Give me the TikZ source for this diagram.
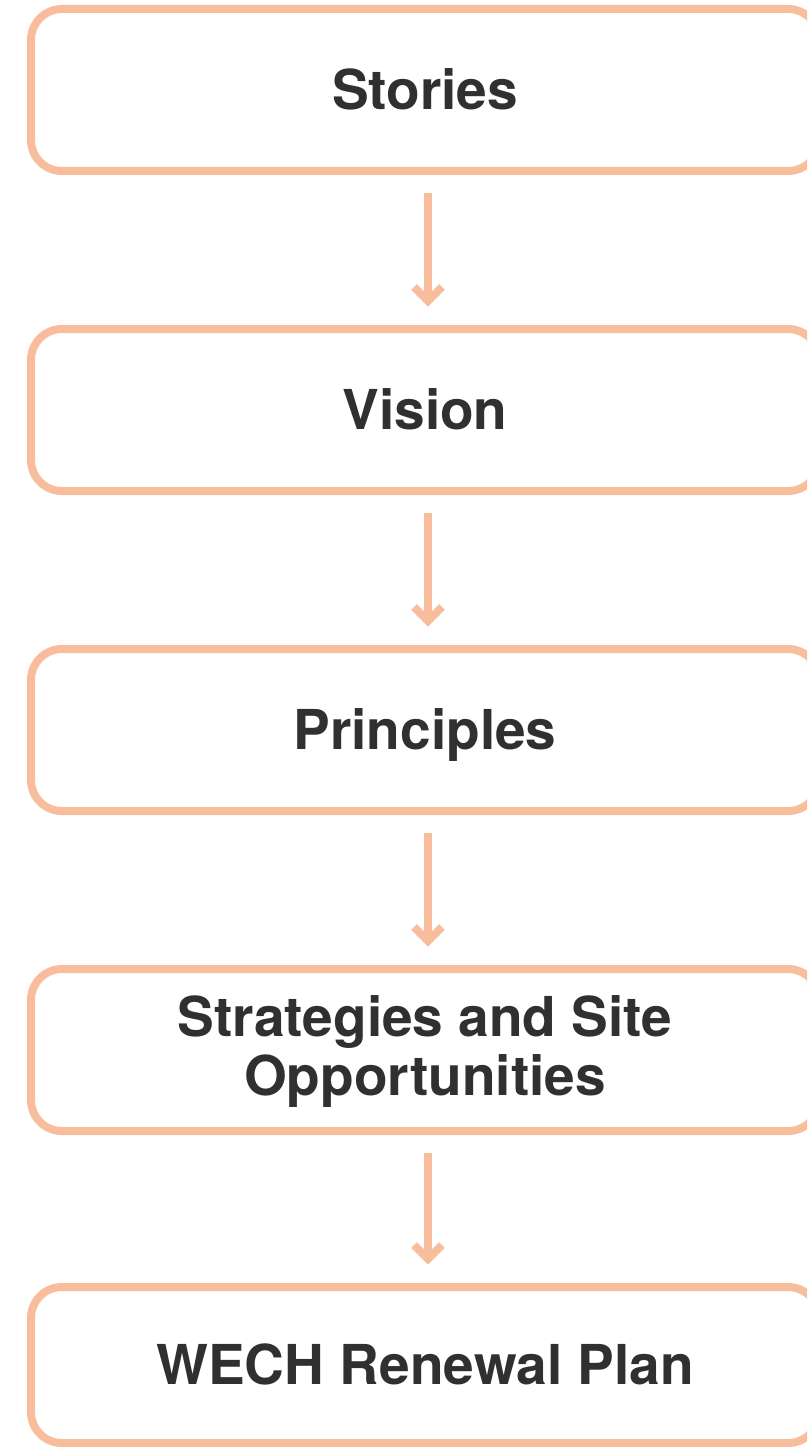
\documentclass[tikz,border=0pt]{standalone}
\usepackage{fontspec}
\setmainfont{TeX Gyre Heros}
\definecolor{peach}{HTML}{F8BD9C}
\definecolor{ink}{HTML}{2F3130}
\begin{document}
\begin{tikzpicture}[x=1pt,y=1pt,
  stagebox/.style={draw=peach, line width=8pt, rounded corners=31pt, minimum width=788pt,
    minimum height=162pt, inner sep=0pt, text=ink, align=center,
    font=\bfseries\fontsize{55}{59}\selectfont, text height=39pt, text depth=0pt},
  flowline/.style={draw=peach, line width=8pt, line cap=butt, line join=miter}]
\useasboundingbox (0,0) rectangle (807,-1447);
\clip (0,0) rectangle (807,-1447);
\node[stagebox] (s1) at (425,-90) {Stories};
\node[stagebox] (s2) at (425,-410) {Vision};
\node[stagebox] (s3) at (425,-730) {Principles};
\node[stagebox, text height=90pt] (s4) at (425,-1050) {Strategies and Site\\Opportunities};
\node[stagebox, minimum height=156pt] (s5) at (425,-1365) {WECH Renewal Plan};
\foreach \a/\b in {s1/s2,s2/s3,s3/s4,s4/s5}{
  \draw[flowline] ([xshift=3pt,yshift=-18pt]\a.south) -- ([xshift=3pt,yshift=24pt]\b.north) coordinate (tip);
  \draw[flowline] (tip) ++(-14pt,14pt) -- (tip) -- ++(14pt,14pt);
}
\end{tikzpicture}
\end{document}
